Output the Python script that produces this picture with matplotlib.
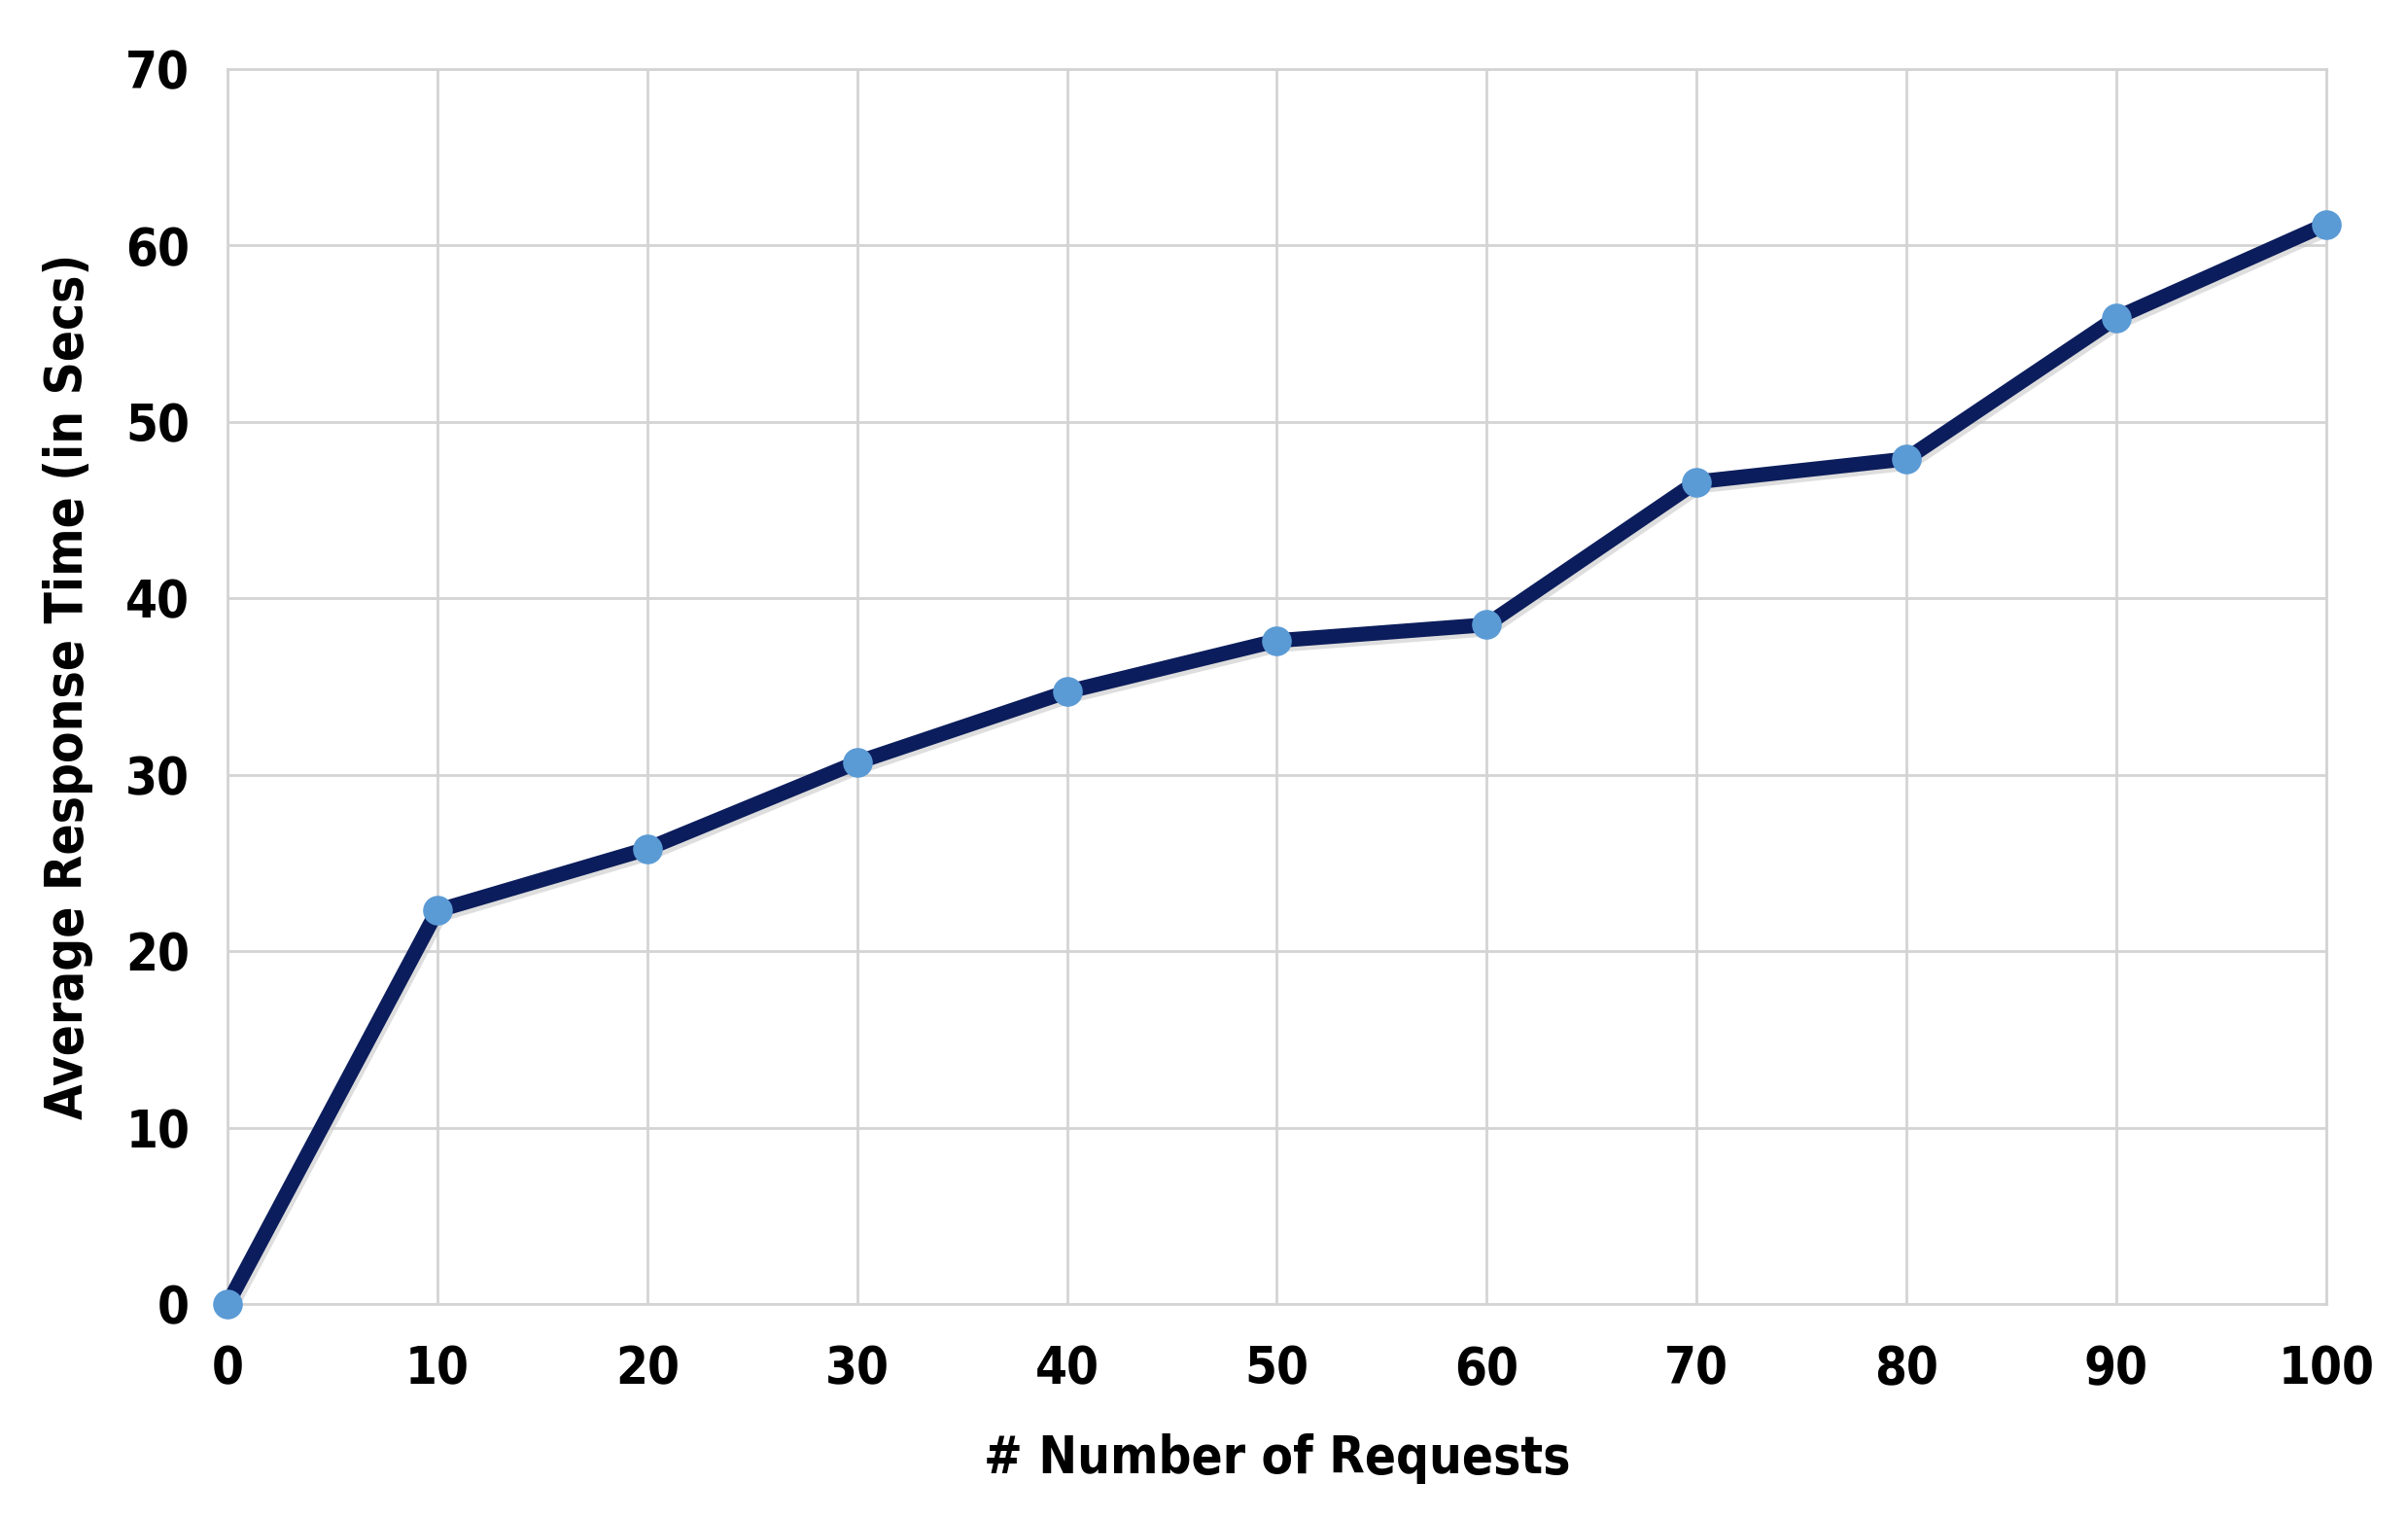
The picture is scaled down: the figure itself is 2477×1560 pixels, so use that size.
import matplotlib
matplotlib.use("Agg")
import matplotlib.pyplot as plt
import matplotlib.patheffects as pe

requests = [0, 10, 20, 30, 40, 50, 60, 70, 80, 90, 100]
resp_time = [0, 22.3, 25.8, 30.7, 34.7, 37.6, 38.5, 46.6, 47.9, 55.9, 61.2]
y_ticks = [0, 10, 20, 30, 40, 50, 60, 70]

plt.rcParams['font.family'] = ['DejaVu Sans']
plt.rcParams['font.stretch'] = 'condensed'

fig = plt.figure(figsize=(24.77, 15.6), dpi=100)
ax = fig.add_axes([0.0945, 0.1404, 0.8715, 0.8141])

# dark line with a soft grey shadow, light blue dots on top
shadow = [pe.SimpleLineShadow(offset=(2, -3), shadow_color='#c8c8c8', alpha=0.6), pe.Normal()]
ax.plot(requests, resp_time, color='#0b1d5c', linewidth=11, zorder=3,
        clip_on=False, path_effects=shadow)
ax.plot(requests, resp_time, linestyle='none', marker='o', markersize=21,
        markerfacecolor='#5b9bd5', markeredgecolor='#5b9bd5', zorder=4, clip_on=False)

ax.set_xlim(0, 100)
ax.set_ylim(0, 70)
ax.set_xticks(requests)
ax.set_yticks(y_ticks)
ax.grid(True, color='#d4d4d4', linewidth=2)
ax.set_axisbelow(True)
for s in ax.spines.values():
    s.set_color('#d4d4d4')
    s.set_linewidth(2)
ax.tick_params(length=0, labelsize=38, pad=28)
ax.tick_params(axis='x', pad=30)
for lbl in ax.get_xticklabels() + ax.get_yticklabels():
    lbl.set_fontweight('bold')

ax.set_xlabel('# Number of Requests', fontsize=38, fontweight='bold', labelpad=28)
ax.set_ylabel('Average Response Time (in Secs)', fontsize=38, fontweight='bold', labelpad=24)

fig.savefig('out.png', dpi=100, facecolor='white')
